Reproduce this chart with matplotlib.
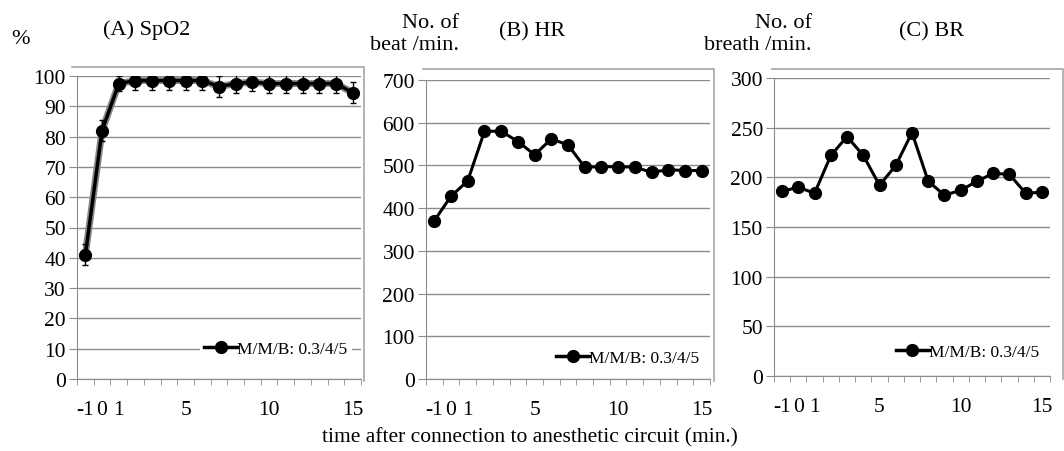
import numpy as np
import matplotlib
matplotlib.use("Agg")
import matplotlib.pyplot as plt
from matplotlib.lines import Line2D

plt.rcParams["font.family"] = ["Liberation Serif", "DejaVu Serif"]

# Data
minutes = [-1, 0, 1, 2, 3, 4, 5, 6, 7, 8, 9, 10, 11, 12, 13, 14, 15]
spo2 = [41, 82, 97.5, 98.5, 98.5, 98.5, 98.5, 98.5, 96.5, 97.5, 98, 97.5, 97.5, 97.5, 97.5, 97.5, 94.5]
spo2_err = [3.5, 3.5, 2.5, 3, 3, 3, 3, 3, 3.5, 3, 3, 3, 3, 3, 3, 3, 3.5]
hr = [371, 428, 464, 580, 580, 556, 525, 562, 548, 496, 497, 497, 496, 484, 490, 488, 488]
br = [186, 190, 184, 222, 241, 222, 192, 212, 245, 196, 182, 187, 196, 204, 203, 184, 185]
tick_labels = [-1, 0, 1, 5, 10, 15]
legend_label = "M/M/B: 0.3/4/5"

W, H = 1064, 452
fig = plt.figure(figsize=(W / 100, H / 100), dpi=100)

GRID = "#8c8c8c"


def rect(left, top, right, bottom):
    return [left / W, 1 - bottom / H, (right - left) / W, (bottom - top) / H]


def frame(x0, x1, y0, y1):
    fig.add_artist(Line2D([x0 / W, x1 / W, x1 / W], [1 - y0 / H, 1 - y0 / H, 1 - y1 / H],
                          color="#a6a6a6", lw=1.2))


def panel(r, values, ymax, ystep, legend_anchor, err=None):
    ax = fig.add_axes(rect(*r))
    if err is not None:
        # grey halo under the line like the original
        ax.plot(minutes, values, color="#888888", lw=5, zorder=1)
        ax.errorbar(minutes, values, yerr=err, color="black", lw=2.5, marker="o",
                    markersize=8.5, capsize=2.5, elinewidth=1, ecolor="black", zorder=2)
    else:
        ax.plot(minutes, values, color="black", lw=2.2, marker="o", markersize=8.5)
    ax.set_xlim(-1.5, 15.5)
    ax.set_ylim(0, ymax)
    ax.set_yticks(np.arange(0, ymax + 1, ystep))
    ax.set_xticks(tick_labels)
    ax.set_xticklabels([str(t) for t in tick_labels])
    ax.set_xticks(np.arange(-1.5, 15.6, 1), minor=True)
    ax.tick_params(axis="x", which="major", length=0, pad=15, labelsize=15.5)
    ax.tick_params(axis="x", which="minor", length=4, color=GRID, direction="out")
    ax.tick_params(axis="y", length=6, color=GRID, labelsize=15.5, pad=2)
    ax.yaxis.grid(True, color=GRID, lw=1)
    ax.set_axisbelow(True)
    for s in ["top", "right"]:
        ax.spines[s].set_visible(False)
    for s in ["left", "bottom"]:
        ax.spines[s].set_color(GRID)
    handle = Line2D([], [], color="black", lw=2.5, marker="o", markersize=8.5)
    ax.legend([handle], [legend_label], loc="center", bbox_to_anchor=legend_anchor,
              frameon=True, facecolor="white", edgecolor="none", framealpha=1,
              fontsize=12.5, handlelength=1.9, handletextpad=0.0, borderpad=0.25,
              fancybox=False)
    return ax


axA = panel((77, 77, 361, 380), spo2, 100, 10, (0.70, 0.1), err=spo2_err)
axB = panel((426, 81, 710, 380), hr, 700, 100, (0.71, 0.07))
axC = panel((774, 79, 1050, 377), br, 300, 50, (0.70, 0.08))

frame(72, 364, 68, 382)
frame(423, 714, 70, 382)
frame(772, 1063, 70, 380)

fs = 16
fig.text(147 / W, 1 - 30 / H, "(A) SpO2", ha="center", va="center", fontsize=fs)
fig.text(20 / W, 1 - 40 / H, "%", ha="center", va="center", fontsize=fs)
fig.text(459 / W, 1 - 24 / H, "No. of", ha="right", va="center", fontsize=fs)
fig.text(459 / W, 1 - 45 / H, "beat /min.", ha="right", va="center", fontsize=fs)
fig.text(532 / W, 1 - 32 / H, "(B) HR", ha="center", va="center", fontsize=fs)
fig.text(812 / W, 1 - 24 / H, "No. of", ha="right", va="center", fontsize=fs)
fig.text(812 / W, 1 - 45 / H, "breath /min.", ha="right", va="center", fontsize=fs)
fig.text(932 / W, 1 - 32 / H, "(C) BR", ha="center", va="center", fontsize=fs)
fig.text(530 / W, 1 - 438 / H, "time after connection to anesthetic circuit (min.)",
         ha="center", va="center", fontsize=15.5)

fig.savefig("out.png", dpi=100)
